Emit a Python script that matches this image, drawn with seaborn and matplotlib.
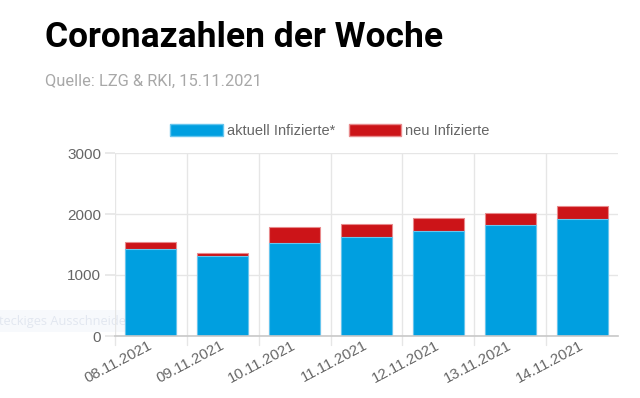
import matplotlib
matplotlib.use("Agg")
import matplotlib.pyplot as plt
import numpy as np
import pandas as pd
import seaborn as sns
from matplotlib.patches import Patch

DATES = ["08.11.2021", "09.11.2021", "10.11.2021", "11.11.2021",
         "12.11.2021", "13.11.2021", "14.11.2021"]
AKTUELL = [1420, 1310, 1520, 1617, 1720, 1820, 1918]
NEU = [115, 45, 262, 214, 213, 202, 219]

BLUE = "#009fe0"
RED = "#cc1418"
GRAY_TXT = "#666666"

sns.set_theme(style="white")
plt.rcParams["font.family"] = ["Liberation Sans", "DejaVu Sans"]

df = pd.DataFrame({"datum": DATES, "aktuell": AKTUELL, "neu": NEU})
df["gesamt"] = df["aktuell"] + df["neu"]

fig = plt.figure(figsize=(6.4, 3.98), dpi=100)
ax = fig.add_axes([115 / 640, 1 - 336 / 398, (618 - 115) / 640, (336 - 153) / 398])
ax.patch.set_alpha(0)

sns.barplot(data=df, x="datum", y="gesamt", color=RED, saturation=1,
            width=0.71, edgecolor="#e88a8c", linewidth=0.8, ax=ax)
sns.barplot(data=df, x="datum", y="aktuell", color=BLUE, saturation=1,
            width=0.71, edgecolor="#66c5ee", linewidth=0.8, ax=ax)

ax.set_xlim(-0.5, 6.5)
ax.set_ylim(0, 3000)
ax.set_yticks([0, 1000, 2000, 3000])
ax.set_xlabel("")
ax.set_ylabel("")

# gridlines at category boundaries, like the original chart
for b in np.arange(-0.5, 6.0, 1.0):
    ax.axvline(b, color="#e6e6e6", lw=1, zorder=0)
    ax.plot([b, b], [0, -0.05], transform=ax.get_xaxis_transform(),
            color="#e6e6e6", lw=1, clip_on=False)
ax.yaxis.grid(True, color="#e6e6e6", lw=1)
ax.set_axisbelow(True)

for s in ["top", "right", "left"]:
    ax.spines[s].set_visible(False)
ax.spines["bottom"].set_color("#c8c8c8")
ax.spines["bottom"].set_linewidth(1.2)

ax.tick_params(axis="y", length=7, color="#e6e6e6", labelsize=11,
               labelcolor=GRAY_TXT, pad=3, left=True)
ax.tick_params(axis="x", length=0, labelsize=10.8, labelcolor=GRAY_TXT, pad=6)
for lbl in ax.get_xticklabels():
    lbl.set_rotation(28)
    lbl.set_ha("right")
    lbl.set_va("center")
    lbl.set_rotation_mode("anchor")

handles = [Patch(facecolor=BLUE, edgecolor="#66c5ee", label="aktuell Infizierte*"),
           Patch(facecolor=RED, edgecolor="#e88a8c", label="neu Infizierte")]
leg = fig.legend(handles=handles, loc="center", bbox_to_anchor=(330 / 640, 1 - 131 / 398),
                 ncol=2, frameon=False, fontsize=10.5, handlelength=3.6, handleheight=0.95,
                 handletextpad=0.3, columnspacing=0.9, borderpad=0)
for t in leg.get_texts():
    t.set_color(GRAY_TXT)

fig.text(45 / 640, 1 - 47 / 398, "Coronazahlen der Woche", fontsize=25.5,
         fontweight="bold", family=["Roboto", "DejaVu Sans"], color="black", va="baseline")
fig.text(45 / 640, 1 - 86 / 398, "Quelle: LZG & RKI, 15.11.2021", fontsize=11.8,
         family=["Roboto", "DejaVu Sans"], color="#a8a8a8", va="baseline")

# faint screenshot overlay remnant
fig.text(-0.002, 1 - 321 / 398, "teckiges Ausschneiden", fontsize=9.2,
         family=["Open Sans", "DejaVu Sans"], color="#e2e7f0", va="center",
         bbox=dict(facecolor="#f7f9fc", edgecolor="none", pad=3), zorder=-1)

fig.savefig("out.png", dpi=100)
